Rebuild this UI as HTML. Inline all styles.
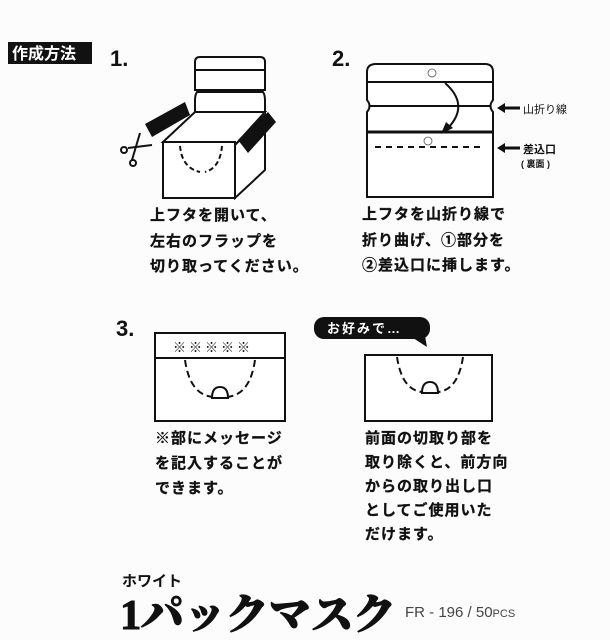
<!DOCTYPE html>
<html><head><meta charset="utf-8"><style>
html,body{margin:0;padding:0;background:#fcfcfc;}
svg{display:block;}
.t{font-family:"Liberation Sans","Noto Sans CJK JP",sans-serif;font-weight:bold;font-size:15px;fill:#111;}
.b{letter-spacing:1px;stroke:#111;stroke-width:0.3px;}
</style></head><body>
<svg width="610" height="640" viewBox="0 0 610 640" xmlns="http://www.w3.org/2000/svg">
<rect width="610" height="640" fill="#fcfcfc"/>
<rect x="8" y="42" width="84" height="22" fill="#111"/>
<text x="12" y="59" class="t" style="fill:#fff;font-size:16px">作成方法</text>
<text x="110" y="66" class="t" style="font-size:22px">1.</text>
<text x="332" y="66" class="t" style="font-size:22px">2.</text>
<text x="116" y="336" class="t" style="font-size:22px">3.</text>

<!-- step 1 -->
<g fill="#fff" stroke="#111" stroke-width="2">
<path d="M195,90 V62 Q195,57 200,57 H260 Q265,57 265,62 V90 Z"/>
<line x1="195" y1="70" x2="265" y2="70"/>
<path d="M197,92 Q195,95 195,100 V112 H265 V100 Q265,95 263,92 Z"/>
<line x1="195" y1="90" x2="265" y2="90"/>
<polygon points="163,142 195,112 265,112 235,145"/>
<rect x="163" y="142" width="72" height="56"/>
<polygon points="235,145 265,115 265,170 235,198"/>
</g>
<polygon points="145,124 185,102 190,115 152,137" fill="#111"/>
<polygon points="238,140 268,112 276,122 248,153" fill="#111"/>
<path d="M180,146 Q182,168 200,172 M222,146 Q220,168 205,172" fill="none" stroke="#111" stroke-width="2" stroke-dasharray="5,3"/>
<g stroke="#111" stroke-width="2" fill="none">
<line x1="128" y1="148" x2="152" y2="145"/><line x1="132" y1="160" x2="140" y2="133"/>
<circle cx="124" cy="150" r="3"/><circle cx="133" cy="163" r="3"/>
</g>
<text x="150" y="220" class="t b">上フタを開いて、</text>
<text x="150" y="246" class="t b">左右のフラップを</text>
<text x="150" y="271" class="t b">切り取ってください。</text>

<!-- step 2 -->
<g fill="#fff" stroke="#111" stroke-width="2">
<path d="M367,197 V112 Q372,106 367,100 V72 Q367,64 376,64 H485 Q493,64 493,72 V100 Q488,106 493,112 V197 Z"/>
<line x1="367" y1="82" x2="493" y2="82"/>
<line x1="369" y1="106" x2="491" y2="106"/>
</g>
<line x1="367" y1="132" x2="493" y2="132" stroke="#111" stroke-width="3"/>
<line x1="375" y1="147" x2="485" y2="147" stroke="#111" stroke-width="2" stroke-dasharray="6,5"/>
<circle cx="432" cy="73" r="4" fill="none" stroke="#555" stroke-width="0.8"/>
<circle cx="428" cy="141" r="4" fill="none" stroke="#555" stroke-width="0.8"/>
<path d="M445,83 Q470,105 448,128" fill="none" stroke="#111" stroke-width="2"/>
<polygon points="441,134 446,122 453,128" fill="#111"/>
<line x1="503" y1="108" x2="520" y2="108" stroke="#111" stroke-width="3"/>
<polygon points="497,108 505,103 505,113" fill="#111"/>
<line x1="503" y1="148" x2="520" y2="148" stroke="#111" stroke-width="3"/>
<polygon points="497,148 505,143 505,153" fill="#111"/>
<text x="523" y="113" class="t" style="font-size:11px;font-weight:normal">山折り線</text>
<text x="523" y="153" class="t" style="font-size:11px">差込口</text>
<text x="521" y="167" class="t" style="font-size:9px">( 裏面 )</text>
<text x="362" y="219" class="t b">上フタを山折り線で</text>
<text x="362" y="245" class="t b">折り曲げ、①部分を</text>
<text x="362" y="270" class="t b">②差込口に挿します。</text>

<!-- step 3 -->
<rect x="155" y="333" width="130" height="88" fill="#fff" stroke="#111" stroke-width="2"/>
<line x1="155" y1="358" x2="285" y2="358" stroke="#111" stroke-width="2"/>
<text x="173" y="352" class="t" style="font-size:13px;letter-spacing:3px">※※※※※</text>
<path d="M185,360 Q190,395 213,397 M255,360 Q250,395 227,397" fill="none" stroke="#111" stroke-width="2" stroke-dasharray="7,4"/>
<path d="M212,398 Q212,387 220,387 Q228,387 228,398 Z" fill="none" stroke="#111" stroke-width="2"/>
<text x="155" y="443" class="t b">※部にメッセージ</text>
<text x="155" y="468" class="t b">を記入することが</text>
<text x="155" y="493" class="t b">できます。</text>

<rect x="314" y="317" width="116" height="22" rx="10" fill="#111"/>
<polygon points="410,336 425,336 427,347" fill="#111"/>
<text x="327" y="333" class="t" style="fill:#fff;font-size:13px;letter-spacing:2px">お好みで…</text>
<rect x="365" y="355" width="127" height="66" fill="#fff" stroke="#111" stroke-width="2"/>
<path d="M397,357 Q402,390 422,392 M463,357 Q458,390 438,392" fill="none" stroke="#111" stroke-width="2" stroke-dasharray="7,4"/>
<path d="M422,393 Q422,382 430,382 Q438,382 438,393 Z" fill="none" stroke="#111" stroke-width="2"/>
<text x="365" y="443" class="t b">前面の切取り部を</text>
<text x="365" y="467" class="t b">取り除くと、前方向</text>
<text x="365" y="491" class="t b">からの取り出し口</text>
<text x="365" y="515" class="t b">としてご使用いた</text>
<text x="365" y="539" class="t b">だけます。</text>

<!-- footer -->
<text x="122" y="586" class="t" style="font-size:15px">ホワイト</text>
<text x="120" y="629" textLength="276" lengthAdjust="spacingAndGlyphs" style="font-family:'Liberation Serif','Noto Serif CJK SC',serif;font-weight:900;font-size:42px;fill:#111;stroke:#111;stroke-width:1px">1パックマスク</text>
<text x="405" y="617" style="font-family:'Liberation Sans',sans-serif;font-size:15px;fill:#444">FR - 196 / 50<tspan style="font-size:11px">PCS</tspan></text>
</svg>
</body></html>
